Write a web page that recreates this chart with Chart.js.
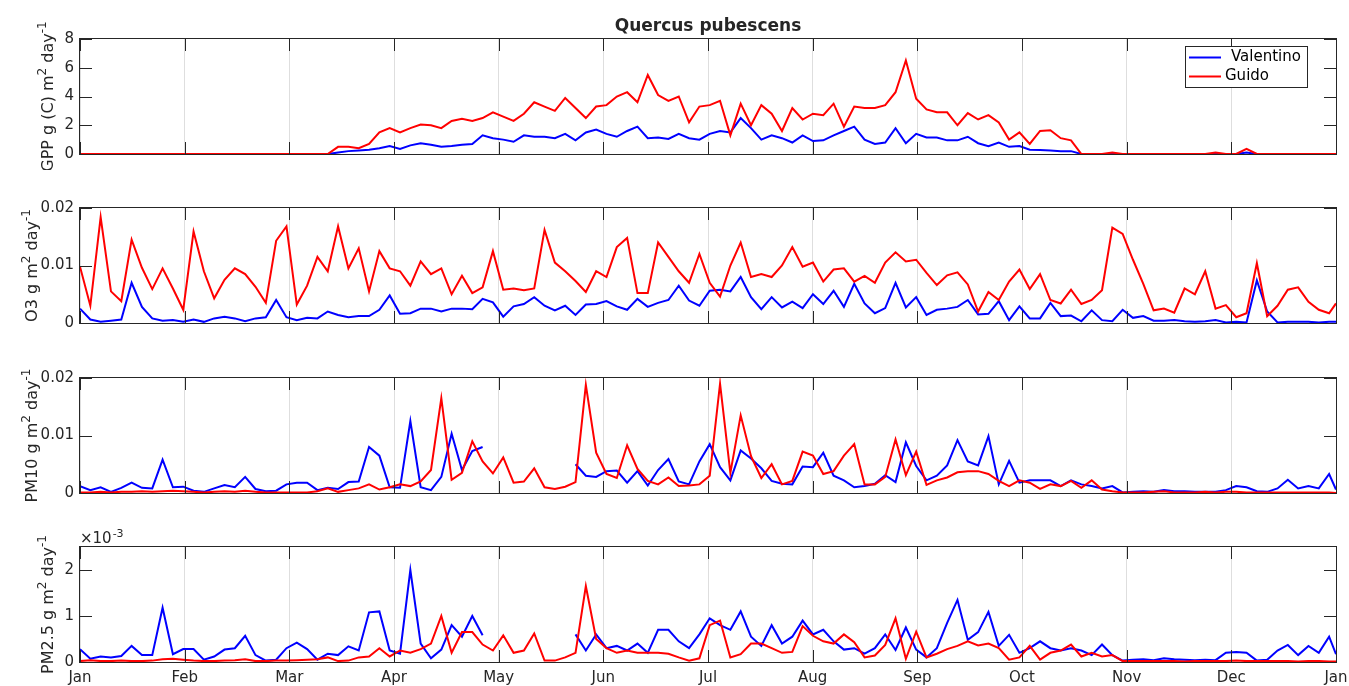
<!DOCTYPE html>
<html>
<head>
<meta charset="utf-8">
<script src="https://cdn.jsdelivr.net/npm/chart.js@4.4.1/dist/chart.umd.min.js"></script>
<style>
  body { margin: 0; background: #fff; overflow: hidden; width: 1349px; height: 686px; position: relative; }
  canvas { position: absolute; left: 0; }
</style>
</head>
<body>
<canvas id="c1" width="1380" height="170" style="top:0px"></canvas>
<canvas id="c2" width="1380" height="170" style="top:170px"></canvas>
<canvas id="c3" width="1380" height="170" style="top:340px"></canvas>
<canvas id="c4" width="1380" height="176" style="top:510px"></canvas>
<script>
// Month tick labels (ticks are evenly spaced over the 365-day axis)
const monthLabels = ["Jan", "Feb", "Mar", "Apr", "May", "Jun", "Jul", "Aug", "Sep", "Oct", "Nov", "Dec", "Jan"];

// Sampled days of year (every 3rd day, plus the last day)
const days = [];
for (let d = 0; d <= 363; d += 3) days.push(d);
days.push(365);

// GPP, g (C) m^2 day^-1
const gppValentino = [
  0, 0, 0, 0, 0, 0, 0, 0, 0, 0,
  0, 0, 0, 0, 0, 0, 0, 0, 0, 0,
  0, 0, 0, 0, 0, 0.1, 0.2, 0.25, 0.3, 0.4,
  0.55, 0.35, 0.6, 0.75, 0.65, 0.5, 0.55, 0.65, 0.7, 1.3,
  1.1, 1.0, 0.85, 1.3, 1.2, 1.2, 1.1, 1.4, 0.95, 1.5,
  1.7, 1.4, 1.2, 1.6, 1.9, 1.1, 1.15, 1.05, 1.4, 1.1,
  1.0, 1.4, 1.6, 1.5, 2.5, 1.8, 1.0, 1.3, 1.1, 0.8,
  1.3, 0.9, 0.95, 1.3, 1.6, 1.9, 1.0, 0.7, 0.8, 1.8,
  0.75, 1.4, 1.15, 1.15, 0.95, 0.95, 1.2, 0.75, 0.55, 0.8,
  0.5, 0.55, 0.3, 0.28, 0.25, 0.2, 0.2, 0, 0, 0,
  0, 0, 0, 0, 0, 0, 0, 0, 0, 0,
  0, 0, 0, 0.1, 0, 0, 0, 0, 0, 0,
  0, 0, 0
];
const gppGuido = [
  0, 0, 0, 0, 0, 0, 0, 0, 0, 0,
  0, 0, 0, 0, 0, 0, 0, 0, 0, 0,
  0, 0, 0, 0, 0, 0.5, 0.5, 0.4, 0.7, 1.5,
  1.8, 1.5, 1.8, 2.05, 2.0, 1.8, 2.3, 2.45, 2.3, 2.5,
  2.9, 2.6, 2.3, 2.8, 3.6, 3.3, 3.0, 3.9, 3.2, 2.5,
  3.3, 3.4, 4.0, 4.3, 3.6, 5.5, 4.1, 3.7, 4.0, 2.2,
  3.3, 3.4, 3.7, 1.3, 3.5, 2.0, 3.4, 2.8, 1.6, 3.2,
  2.4, 2.8, 2.7, 3.5, 1.9, 3.3, 3.2, 3.2, 3.4, 4.3,
  6.5, 3.85, 3.1, 2.9, 2.9, 2.0, 2.85, 2.4, 2.7, 2.2,
  1.0, 1.5, 0.7, 1.6, 1.65, 1.1, 0.95, 0, 0, 0,
  0.1, 0, 0, 0, 0, 0, 0, 0, 0, 0,
  0.1, 0, 0, 0.35, 0, 0, 0, 0, 0, 0,
  0, 0, 0
];

// O3, in 1e-3 g m^2 day^-1
const o3Valentino = [
  2.5, 0.6, 0.2, 0.4, 0.6, 7.0, 2.8, 0.8, 0.4, 0.5,
  0.2, 0.6, 0.2, 0.8, 1.1, 0.8, 0.3, 0.8, 1.0, 4.0,
  1.0, 0.5, 0.9, 0.8, 2.0, 1.4, 1.0, 1.2, 1.2, 2.3,
  4.8, 1.6, 1.7, 2.5, 2.5, 2.0, 2.5, 2.5, 2.4, 4.2,
  3.6, 1.1, 2.9, 3.3, 4.5, 3.0, 2.2, 3.0, 1.4, 3.2,
  3.3, 3.8, 2.9, 2.3, 4.2, 2.8, 3.5, 4.0, 6.5, 3.9,
  3.0, 5.6, 5.8, 5.5, 8.0, 4.5, 2.4, 4.5, 2.7, 3.7,
  2.6, 5.0, 3.3, 5.6, 2.8, 6.8, 3.4, 1.7, 2.6, 7.0,
  2.7, 4.5, 1.4, 2.3, 2.5, 2.8, 4.0, 1.5, 1.6, 3.8,
  0.5, 2.9, 0.8, 0.8, 3.5, 1.2, 1.3, 0.3, 2.2, 0.5,
  0.3, 2.3, 0.9, 1.2, 0.4, 0.4, 0.5, 0.3, 0.2, 0.3,
  0.5, 0.1, 0.2, 0.1, 7.4, 2.0, 0.1, 0.2, 0.2, 0.2,
  0.1, 0.2, 0.2
];
const o3Guido = [
  9.8, 3.0, 18.4, 5.5, 3.8, 14.5, 9.6, 5.9, 9.5, 6.0,
  2.3, 15.9, 9.0, 4.3, 7.5, 9.5, 8.5, 6.3, 3.5, 14.3,
  16.8, 3.2, 6.5, 11.5, 9.0, 16.8, 9.5, 13.0, 5.5, 12.5,
  9.5, 9.0, 6.5, 10.7, 8.5, 9.5, 5.0, 8.2, 5.2, 6.2,
  12.5, 5.8, 6.0, 5.7, 6.0, 16.2, 10.5, 9.0, 7.3, 5.4,
  9.0, 8.0, 13.2, 14.8, 5.2, 5.2, 14.0, 11.5, 9.0, 7.0,
  12.0, 7.0, 4.6, 10.0, 14.0, 8.0, 8.5, 8.0, 10.0, 13.2,
  9.8, 10.5, 7.2, 9.3, 9.5, 7.2, 8.2, 7.0, 10.5, 12.3,
  10.7, 11.0, 8.7, 6.6, 8.3, 8.8, 6.7, 2.0, 5.4, 4.0,
  7.2, 9.3, 5.9, 8.5, 4.0, 3.4, 5.8, 3.3, 4.0, 5.7,
  16.6, 15.5, 11.0, 6.8, 2.2, 2.5, 1.8, 6.0, 5.0, 9.0,
  2.5, 3.1, 1.0, 1.7, 10.4, 1.2, 3.0, 5.8, 6.2, 3.7,
  2.3, 1.7, 3.4
];

// PM10, in 1e-3 g m^2 day^-1 (null = no data)
const pm10Valentino = [
  1.2, 0.5, 1.0, 0.2, 0.9, 1.8, 0.9, 0.8, 5.8, 1.0,
  1.1, 0.4, 0.2, 0.8, 1.4, 1.0, 2.8, 0.7, 0.3, 0.4,
  1.5, 1.8, 1.8, 0.5, 0.9, 0.7, 1.9, 2.0, 8.0, 6.5,
  1.0, 0.9, 12.5, 1.0, 0.5, 2.8, 10.3, 4.0, 7.3, 8.0,
  null, null, null, null, null, null, null, null, 5.0, 3.0,
  2.8, 3.8, 3.9, 1.8, 3.8, 1.3, 4.0, 5.9, 2.0, 1.5,
  5.5, 8.5, 4.5, 2.2, 7.4, 6.0, 4.3, 2.1, 1.6, 1.5,
  4.6, 4.5, 7.0, 3.0, 2.2, 1.0, 1.2, 1.6, 3.1, 1.9,
  8.8, 4.7, 2.2, 3.0, 4.8, 9.2, 5.5, 4.8, 9.9, 1.5,
  5.6, 1.8, 2.2, 2.2, 2.2, 1.2, 2.2, 1.5, 1.2, 0.8,
  1.2, 0.1, 0.2, 0.3, 0.2, 0.5, 0.3, 0.3, 0.2, 0.2,
  0.2, 0.5, 1.2, 1.0, 0.3, 0.2, 0.8, 2.3, 0.8, 1.2,
  0.8, 3.3, 0.6
];
const pm10Guido = [
  0.1, 0.1, 0.2, 0.1, 0.2, 0.2, 0.3, 0.2, 0.3, 0.4,
  0.3, 0.2, 0.1, 0.2, 0.3, 0.2, 0.4, 0.2, 0.1, 0.1,
  0.1, 0.1, 0.1, 0.3, 0.8, 0.2, 0.5, 0.8, 1.5, 0.6,
  1.0, 1.5, 1.2, 2.0, 4.0, 16.5, 2.3, 3.5, 9.0, 5.5,
  3.4, 6.2, 1.8, 2.0, 4.3, 1.0, 0.7, 1.1, 1.9, 18.8,
  7.0, 3.3, 2.6, 8.3, 4.2, 2.1, 1.5, 2.7, 1.2, 1.3,
  1.5, 3.0, 19.0, 3.5, 13.5, 6.4, 2.6, 5.0, 1.5, 2.1,
  7.2, 6.5, 3.3, 3.8, 6.5, 8.5, 1.5, 1.5, 2.8, 9.3,
  3.1, 7.2, 1.4, 2.2, 2.7, 3.6, 3.8, 3.8, 3.3, 2.1,
  1.2, 2.2, 1.8, 0.7, 1.5, 1.2, 2.1, 0.9, 2.2, 0.6,
  0.3, 0.1, 0.1, 0.1, 0.2, 0.3, 0.1, 0.1, 0.1, 0.2,
  0.1, 0.2, 0.2, 0.1, 0.1, 0.1, 0.1, 0.1, 0.1, 0.1,
  0.1, 0.1, 0.0
];

// PM2.5, in 1e-3 g m^2 day^-1 (null = no data)
const pm25Valentino = [
  0.28, 0.07, 0.12, 0.1, 0.13, 0.35, 0.15, 0.15, 1.18, 0.17,
  0.28, 0.28, 0.05, 0.12, 0.27, 0.3, 0.57, 0.15, 0.03, 0.05,
  0.3, 0.42, 0.28, 0.05, 0.18, 0.15, 0.34, 0.25, 1.08, 1.1,
  0.25, 0.18, 2.0, 0.4, 0.08, 0.27, 0.8, 0.55, 1.0, 0.58,
  null, null, null, null, null, null, null, null, 0.6, 0.25,
  0.6, 0.3, 0.35, 0.25, 0.4, 0.2, 0.7, 0.7, 0.45, 0.3,
  0.6, 0.95, 0.8, 0.7, 1.1, 0.55, 0.35, 0.8, 0.4, 0.55,
  0.9, 0.6, 0.7, 0.45, 0.27, 0.3, 0.18, 0.3, 0.6, 0.26,
  0.75, 0.27, 0.1, 0.3, 0.85, 1.35, 0.48, 0.65, 1.09, 0.35,
  0.59, 0.2, 0.3, 0.45, 0.3, 0.25, 0.3, 0.25, 0.15, 0.38,
  0.15, 0.03, 0.05, 0.06, 0.04, 0.08, 0.06, 0.05, 0.04, 0.05,
  0.04, 0.2, 0.22, 0.2, 0.03, 0.05, 0.25, 0.37, 0.15, 0.35,
  0.2, 0.55, 0.17
];
const pm25Guido = [
  0.02, 0.04, 0.02, 0.02, 0.03, 0.02, 0.02, 0.03, 0.06, 0.07,
  0.05, 0.03, 0.02, 0.02, 0.03, 0.04, 0.06, 0.02, 0.02, 0.03,
  0.03, 0.04, 0.05, 0.06, 0.1, 0.02, 0.03, 0.1, 0.12, 0.3,
  0.12, 0.25, 0.2, 0.28, 0.4, 1.0, 0.2, 0.65, 0.65, 0.38,
  0.25, 0.58, 0.2, 0.25, 0.62, 0.03, 0.03, 0.1, 0.2, 1.65,
  0.5, 0.3, 0.2, 0.25, 0.2, 0.2, 0.2, 0.18, 0.1, 0.03,
  0.08, 0.8, 0.9, 0.1, 0.17, 0.4, 0.4, 0.3, 0.2, 0.22,
  0.78, 0.57, 0.45, 0.4, 0.6, 0.43, 0.1, 0.14, 0.37, 0.95,
  0.07, 0.66, 0.1, 0.18, 0.28, 0.35, 0.45, 0.36, 0.4, 0.3,
  0.05, 0.1, 0.35, 0.05, 0.2, 0.25, 0.38, 0.12, 0.2, 0.12,
  0.15, 0.02, 0.02, 0.02, 0.02, 0.02, 0.02, 0.01, 0.02, 0.02,
  0.02, 0.02, 0.03, 0.02, 0.02, 0.02, 0.02, 0.02, 0.01, 0.02,
  0.02, 0.01, 0.01
];

const FONT = '"DejaVu Sans", sans-serif';
const AXIS_COLOR = '#262626';

// draw text made of normal / superscript parts, centred on (0,0)
function drawRich(ctx, parts, size) {
  const supSize = Math.round(size * 0.72);
  let total = 0;
  parts.forEach(p => {
    ctx.font = (p[1] ? supSize : size) + 'px ' + FONT;
    total += ctx.measureText(p[0]).width;
  });
  let x = -total / 2;
  parts.forEach(p => {
    ctx.font = (p[1] ? supSize : size) + 'px ' + FONT;
    ctx.fillText(p[0], x, p[1] ? -size * 0.4 : 0);
    x += ctx.measureText(p[0]).width;
  });
}

// MATLAB-like box, inward ticks, y label, legend, title
const matlabAxes = {
  id: 'matlabAxes',
  afterDraw(chart, args, o) {
    const { ctx, chartArea: a, scales: { x, y } } = chart;
    ctx.save();
    ctx.strokeStyle = AXIS_COLOR;
    ctx.lineWidth = 1;
    ctx.beginPath();
    x.ticks.forEach(t => {
      const px = Math.round(x.getPixelForValue(t.value)) + 0.5;
      ctx.moveTo(px, a.bottom); ctx.lineTo(px, a.bottom - 12);
      ctx.moveTo(px, a.top); ctx.lineTo(px, a.top + 12);
    });
    y.ticks.forEach(t => {
      const py = Math.round(y.getPixelForValue(t.value)) + 0.5;
      ctx.moveTo(a.left, py); ctx.lineTo(a.left + 12, py);
      ctx.moveTo(a.right, py); ctx.lineTo(a.right - 12, py);
    });
    ctx.stroke();
    ctx.strokeRect(a.left - 0.5, a.top - 0.5, a.right - a.left + 1, a.bottom - a.top + 1);

    // y axis label
    ctx.fillStyle = AXIS_COLOR;
    ctx.textBaseline = 'middle';
    ctx.textAlign = 'left';
    ctx.save();
    ctx.translate(o.labelX, (a.top + a.bottom) / 2);
    ctx.rotate(-Math.PI / 2);
    drawRich(ctx, o.label, 16);
    ctx.restore();

    if (o.exponent) {
      ctx.textBaseline = 'alphabetic';
      ctx.font = '15px ' + FONT;
      ctx.fillText('\u00d710', a.left, a.top - 4);
      const w = ctx.measureText('\u00d710').width;
      ctx.font = '11px ' + FONT;
      ctx.fillText('-3', a.left + w + 1, a.top - 10);
    }

    if (o.title) {
      ctx.textAlign = 'center';
      ctx.font = 'bold 17px ' + FONT;
      ctx.fillText(o.title, (a.left + a.right) / 2, 27);
    }

    if (o.legend) {
      ctx.fillStyle = '#fff';
      ctx.fillRect(1185.5, 46.5, 122, 41);
      ctx.strokeStyle = AXIS_COLOR;
      ctx.strokeRect(1185.5, 46.5, 122, 41);
      ctx.lineWidth = 2;
      ctx.strokeStyle = '#0000ff';
      ctx.beginPath(); ctx.moveTo(1189, 57.5); ctx.lineTo(1221, 57.5); ctx.stroke();
      ctx.strokeStyle = '#ff0000';
      ctx.beginPath(); ctx.moveTo(1189, 76.5); ctx.lineTo(1221, 76.5); ctx.stroke();
      ctx.fillStyle = '#000';
      ctx.textAlign = 'left';
      ctx.textBaseline = 'middle';
      ctx.font = '15px ' + FONT;
      ctx.fillText('Valentino', 1231, 57);
      ctx.fillText('Guido', 1225, 76);
    }
    ctx.restore();
  }
};

const panels = [
  { id: 'c1', padTop: 39, padBottom: 16, max: 8, step: 2, blue: gppValentino, red: gppGuido,
    label: [['GPP g (C) m'], ['2', true], [' day'], ['-1', true]], labelX: 49,
    fmt: v => v, title: 'Quercus pubescens', legend: true },
  { id: 'c2', padTop: 38, padBottom: 17, max: 20, step: 10, blue: o3Valentino, red: o3Guido,
    label: [['O3 g m'], ['2', true], [' day'], ['-1', true]], labelX: 33,
    fmt: v => v / 1000 },
  { id: 'c3', padTop: 38, padBottom: 17, max: 20, step: 10, blue: pm10Valentino, red: pm10Guido,
    label: [['PM10 g m'], ['2', true], [' day'], ['-1', true]], labelX: 33,
    fmt: v => v / 1000 },
  { id: 'c4', padTop: 37, padBottom: 0, max: 2.5, step: 1, blue: pm25Valentino, red: pm25Guido,
    label: [['PM2.5 g m'], ['2', true], [' day'], ['-1', true]], labelX: 49,
    fmt: v => v, exponent: true, showX: true }
];

panels.forEach(p => {
  const points = arr => arr.map((v, i) => ({ x: days[i], y: v }));
  new Chart(document.getElementById(p.id), {
    type: 'line',
    data: {
      datasets: [
        { label: 'Guido', data: points(p.red), borderColor: '#ff0000', borderWidth: 2, pointRadius: 0, tension: 0, spanGaps: false },
        { label: 'Valentino', data: points(p.blue), borderColor: '#0000ff', borderWidth: 2, pointRadius: 0, tension: 0, spanGaps: false }
      ]
    },
    options: {
      responsive: false,
      animation: false,
      events: [],
      layout: { padding: { left: 0, right: 44, top: p.padTop, bottom: p.padBottom } },
      plugins: {
        legend: { display: false },
        title: { display: false },
        tooltip: { enabled: false },
        matlabAxes: { label: p.label, labelX: p.labelX, title: p.title, legend: p.legend, exponent: p.exponent }
      },
      scales: {
        x: {
          type: 'linear', min: 0, max: 365,
          afterBuildTicks: s => { s.ticks = monthLabels.map((_, i) => ({ value: i * 365 / 12 })); },
          afterFit: s => { s.height = p.showX ? 24 : 0; },
          grid: { color: '#dedede', drawTicks: false },
          border: { display: false },
          ticks: {
            display: !!p.showX, autoSkip: false, maxRotation: 0, padding: 7,
            color: AXIS_COLOR, font: { family: FONT, size: 15 },
            callback: (v, i) => monthLabels[i]
          }
        },
        y: {
          min: 0, max: p.max,
          afterBuildTicks: s => { s.ticks = s.ticks.filter(t => Number.isInteger(t.value / p.step)); },
          afterFit: s => { s.width = 80; },
          grid: { display: false, drawTicks: false },
          border: { display: false },
          ticks: {
            stepSize: p.step, padding: 6,
            color: AXIS_COLOR, font: { family: FONT, size: 15 },
            callback: v => String(p.fmt(v))
          }
        }
      }
    },
    plugins: [matlabAxes]
  });
});
</script>
</body>
</html>
